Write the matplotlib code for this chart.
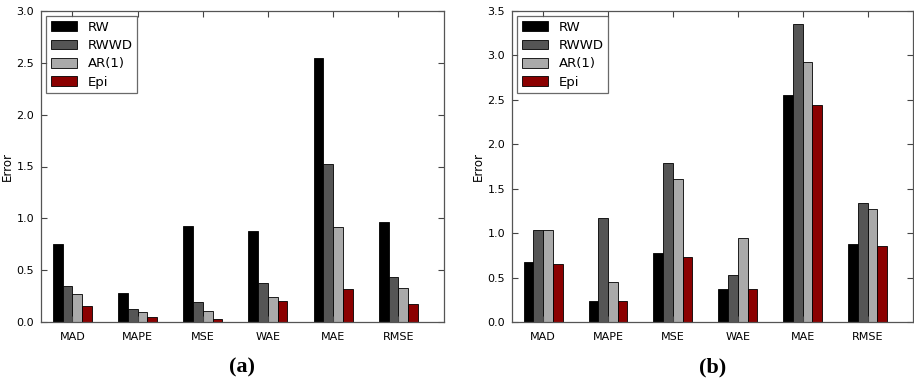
import numpy as np
import matplotlib
matplotlib.use("Agg")
import matplotlib.pyplot as plt

metrics = ["MAD", "MAPE", "MSE", "WAE", "MAE", "RMSE"]
models = ["RW", "RWWD", "AR(1)", "Epi"]
colors = ["#000000", "#555555", "#aaaaaa", "#8b0000"]

# panel (a)
rw_a = [0.75, 0.28, 0.93, 0.88, 2.55, 0.965]
rwwd_a = [0.345, 0.125, 0.19, 0.375, 1.52, 0.435]
ar_a = [0.27, 0.10, 0.11, 0.24, 0.915, 0.33]
epi_a = [0.15, 0.05, 0.03, 0.20, 0.315, 0.17]

# panel (b)
rw_b = [0.67, 0.235, 0.775, 0.37, 2.55, 0.88]
rwwd_b = [1.04, 1.165, 1.79, 0.525, 3.35, 1.34]
ar_b = [1.035, 0.445, 1.61, 0.945, 2.93, 1.27]
epi_b = [0.655, 0.235, 0.735, 0.37, 2.445, 0.855]

plt.rcParams['font.family'] = 'DejaVu Sans'

fig = plt.figure(figsize=(9.14, 3.82), dpi=100)
W, H = 914.0, 382.0
ax1 = fig.add_axes([41 / W, 1 - 322 / H, 403 / W, 311 / H])
ax2 = fig.add_axes([512 / W, 1 - 322 / H, 401 / W, 311 / H])

width = 0.15
ind = np.arange(len(metrics))


def draw(ax, series, ymax, ystep, caption):
    for k, vals in enumerate(series):
        ax.bar(ind + k * width, vals, width, color=colors[k], edgecolor='black',
               linewidth=0.6, align='edge', label=models[k])
    ax.set_xlim(-0.18, 6.0)
    ax.set_ylim(0, ymax)
    ticks = np.arange(0, ymax + 0.01, ystep)
    ax.set_yticks(ticks)
    ax.set_yticklabels([f"{v:.1f}" for v in ticks])
    ax.set_xticks(ind + 2 * width)
    ax.set_xticklabels(metrics)
    ax.tick_params(direction='in', top=True, right=True, labelsize=8,
                   length=4, width=0.8, color='#444444', pad=5)
    ax.tick_params(axis='x', pad=7)
    for s in ax.spines.values():
        s.set_color('#555555')
        s.set_linewidth(0.9)
    ax.set_ylabel('Error', fontsize=8.5, labelpad=2)
    leg = ax.legend(loc='upper left', fontsize=9.5, fancybox=False,
                    handlelength=2.0, handleheight=0.75, borderpad=0.35,
                    labelspacing=0.4, handletextpad=0.8, borderaxespad=0.4)
    leg.get_frame().set_edgecolor('#444444')
    leg.get_frame().set_linewidth(0.9)
    bb = ax.get_position()
    fig.text((bb.x0 + bb.x1) / 2, 1 - 367 / H, caption, ha='center', va='center',
             fontsize=16, fontweight='bold', family='Liberation Serif')


draw(ax1, [rw_a, rwwd_a, ar_a, epi_a], 3.0, 0.5, '(a)')
draw(ax2, [rw_b, rwwd_b, ar_b, epi_b], 3.5, 0.5, '(b)')

fig.savefig('out.png', dpi=100)
